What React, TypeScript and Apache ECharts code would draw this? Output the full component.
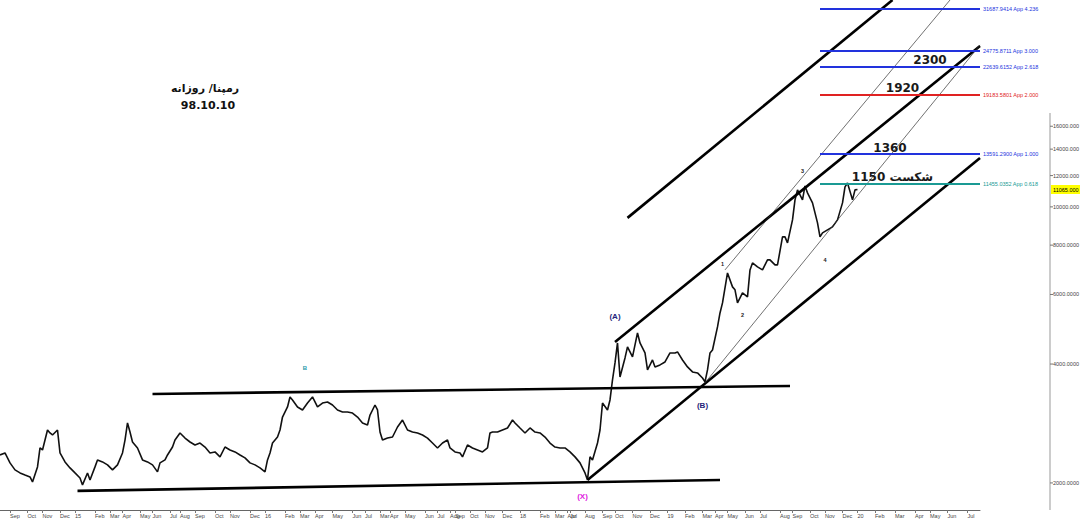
import React, { useEffect, useRef } from "react";
import * as echarts from "echarts";

// ---- x axis: slots (each slot ~ a few trading days), month starts ----
const SLOT_COUNT = 393;
const monthLabels = ["Sep","Oct","Nov","Dec","15","Feb","Mar","Apr","May","Jun","Jul","Aug","Sep","Oct","Nov","Dec","16","Feb","Mar","Apr","May","Jun","Jul","Mar","Apr","May","Jun","Jul","Aug","Sep","Oct","Nov","Dec","18","Feb","Mar","Apr","Jul","Aug","Sep","Oct","Nov","Dec","19","Feb","Mar","Apr","May","Jun","Jul","Aug","Sep","Oct","Nov","Dec","20","Feb","Mar","Apr","May","Jun","Jul"];
const monthStartSlot = [4,11,17,24,30,38,44,49,56,61,68,72,78,86,92,100,106,114,120,126,133,141,146,152,156,162,170,175,180,182,188,194,201,208,216,222,227,228,234,241,246,253,260,267,274,281,286,291,298,304,312,317,324,330,337,343,350,358,366,372,379,387];

// ---- price (slot, value) ----
const priceSlot = [0,2,4,6,8,10,12,13,15,16,17,19,20,21,23,24,26,28,30,32,33,35,36,38,39,41,43,45,47,49,50,51,52,53,55,57,59,61,63,64,66,67,69,70,72,74,76,78,80,82,84,86,88,90,92,94,96,98,100,102,104,106,107,108,109,111,112,113,115,116,117,119,121,123,125,127,129,131,133,135,137,139,141,143,145,147,148,150,151,152,153,155,157,159,161,163,165,167,169,171,173,175,177,179,180,182,184,185,187,189,191,193,195,196,197,199,201,203,205,206,208,210,212,214,216,218,220,222,224,226,228,230,232,234,235,236,237,239,240,241,243,244,245,246,247,248,250,251,253,255,256,258,259,261,262,264,266,268,270,271,273,275,277,279,281,282,283,284,285,287,288,289,291,293,294,295,297,299,300,301,303,305,307,308,310,311,313,314,315,317,318,319,321,322,323,325,327,328,329,331,333,335,337,338,339,341,342,343];
const priceValue = [2354,2382,2248,2158,2120,2095,2071,2012,2196,2452,2424,2723,2676,2645,2723,2382,2261,2183,2120,2059,1977,2120,2035,2196,2287,2261,2222,2158,2222,2382,2568,2837,2691,2539,2452,2287,2261,2222,2133,2248,2287,2354,2466,2568,2676,2598,2539,2495,2524,2466,2382,2396,2328,2466,2424,2396,2354,2314,2248,2222,2183,2133,2287,2382,2524,2614,2723,2937,3114,3301,3244,3114,3060,3187,3301,3114,3187,3206,3150,3060,3024,3024,3006,2937,2837,2804,2971,3150,3060,2691,2568,2598,2614,2771,2886,2723,2691,2676,2645,2598,2524,2452,2524,2568,2452,2396,2382,2328,2495,2452,2424,2396,2452,2676,2691,2691,2723,2755,2886,2837,2755,2676,2755,2691,2676,2614,2524,2466,2452,2452,2396,2328,2248,2120,2035,2328,2287,2524,2723,3187,3060,3244,3646,4026,4523,3710,4145,4419,4169,4795,4523,4267,3865,4096,3933,3979,4049,4267,4267,4292,4096,3933,3820,3798,3688,3604,3865,4267,4342,4966,5388,5713,6804,6272,6164,5713,6057,5917,6924,7213,7046,6924,7340,7340,7129,7129,8393,8393,8104,9269,10415,11040,10415,11300,10849,10234,9107,8393,8591,8743,8898,9269,10234,11234,11492,10415,11040,11065];
const lastPrice = 11065;

// ---- y axis tick values ----
const yTickValues = [2000,4000,6000,8000,10000,12000,14000,16000];
const yMin = 1708;
const yMax = 33400;

// ---- trend lines [slot1, price1, slot2, price2] ----
const heavyLines = [
  [61, 3360, 316, 3520],
  [31, 1909, 288, 2035],
  [235, 2035, 392, 13300],
  [246, 4550, 392, 25560],
  [251, 9378, 357, 33400],
];
const thinLines = [
  [290, 6924, 380, 33400],
  [282, 3584, 392, 25700],
];

// ---- Fibonacci projections ----
const fibValues = [31687.9414, 24775.8711, 22639.6152, 19183.5801, 13591.29, 11455.0352];
const fibRatios = ["4.236", "3.000", "2.618", "2.000", "1.000", "0.618"];
const fibColors = ["#2233dd", "#2233dd", "#2233dd", "#e02222", "#2233dd", "#1a9a94"];
const fibStartSlot = 328;
const fibEndSlot = 392;

// ---- target labels ----
const targetTexts = ["2300", "1920", "1360", "1150 شکست"];
const targetSlot = [372, 361, 356, 357];
const targetPrice = [23540, 20000, 14095, 11906];

// ---- wave labels ----
const waveTexts = ["(A)", "(B)", "(X)", "B", "1", "2", "3", "4"];
const waveSlot = [246, 281, 233, 122, 289, 297, 321, 330];
const wavePrice = [5264, 3132, 1843, 3910, 7170, 5326, 12330, 7338];
const waveColors = ["#23237a", "#23237a", "#e020e0", "#2a9aaa", "#222", "#222", "#222", "#222"];
const waveSizes = [8, 8, 8, 6, 5.5, 5.5, 5.5, 5.5];

const titleLines = ["رمپنا/ روزانه", "98.10.10"];

const fmtY = (v: number) => (v >= 10000 ? v.toFixed(3) : v.toFixed(4));

export default function App() {
  const ref = useRef<HTMLDivElement>(null);
  useEffect(() => {
    if (!ref.current) return;
    const chart = echarts.init(ref.current, null, { renderer: "svg" });
    const categories = Array.from({ length: SLOT_COUNT }, (_, i) => String(i));
    const labelMap: Record<number, string> = {};
    monthStartSlot.forEach((s, i) => (labelMap[s] = monthLabels[i]));
    const isMonth = (i: number) => labelMap[i] !== undefined;

    const priceData = priceSlot.map((s, i) => [s, priceValue[i]]);

    const lineItem = (l: number[], width: number, color: string) => [
      { coord: [l[0], l[1]], lineStyle: { width, color, type: "solid" }, label: { show: false } },
      { coord: [l[2], l[3]] },
    ];
    const markLines: any[] = [
      ...heavyLines.map((l) => lineItem(l, 2.6, "#000")),
      ...thinLines.map((l) => lineItem(l, 0.7, "#333")),
      ...fibValues.map((v, i) => [
        {
          coord: [fibStartSlot, v],
          lineStyle: { width: 2, color: fibColors[i], type: "solid" },
          label: {
            show: true,
            position: "end",
            distance: 3,
            formatter: `${v.toFixed(4)} App ${fibRatios[i]}`,
            color: fibColors[i],
            fontSize: 5.5,
            fontFamily: "Liberation Sans",
          },
        },
        { coord: [fibEndSlot, v] },
      ]),
    ];

    const markPoints: any[] = [
      ...targetTexts.map((t, i) => ({
        coord: [targetSlot[i], targetPrice[i]],
        symbol: "rect",
        symbolSize: 1,
        itemStyle: { color: "rgba(0,0,0,0)" },
        label: {
          show: true,
          position: "inside",
          formatter: t,
          fontSize: 12,
          fontWeight: "bold",
          color: "#1a1a1a",
          fontFamily: "DejaVu Sans",
        },
      })),
      ...waveTexts.map((t, i) => ({
        coord: [waveSlot[i], wavePrice[i]],
        symbol: "rect",
        symbolSize: 1,
        itemStyle: { color: "rgba(0,0,0,0)" },
        label: {
          show: true,
          position: "inside",
          formatter: t,
          fontSize: waveSizes[i],
          fontWeight: "bold",
          color: waveColors[i],
          fontFamily: "Liberation Sans",
        },
      })),
    ];

    chart.setOption({
      animation: false,
      backgroundColor: "#fff",
      grid: { left: 0, right: 100, top: 0, bottom: 12, containLabel: false },
      xAxis: {
        type: "category",
        data: categories,
        boundaryGap: false,
        axisLine: { show: true, lineStyle: { color: "#666", width: 1 } },
        axisTick: {
          show: true,
          interval: (i: number) => isMonth(i),
          length: 3,
          lineStyle: { color: "#777" },
        },
        axisLabel: {
          show: true,
          interval: (i: number) => isMonth(i),
          formatter: (_v: string, i: number) => labelMap[i] ?? "",
          fontSize: 5.5,
          color: "#444",
          align: "left",
          margin: 3,
          fontFamily: "Liberation Sans",
        },
        splitLine: { show: false },
      },
      yAxis: {
        type: "log",
        min: yMin,
        max: yMax,
        position: "right",
        axisLine: { show: false },
        axisTick: { show: false },
        axisLabel: { show: false },
        splitLine: { show: false },
      },
      series: [
        {
          type: "line",
          data: priceData,
          symbol: "none",
          lineStyle: { color: "#111", width: 1.6 },
          clip: false,
          markLine: { silent: true, symbol: ["none", "none"], data: markLines, animation: false },
          markPoint: { silent: true, data: markPoints, animation: false },
        },
      ],
    });

    const gx = 1050;
    const graphics: any[] = [
      { type: "line", shape: { x1: gx, y1: 113, x2: gx, y2: 510 }, style: { stroke: "#999", lineWidth: 1 } },
    ];
    yTickValues.forEach((v) => {
      const py = chart.convertToPixel({ yAxisIndex: 0 }, v) as number;
      graphics.push({ type: "line", shape: { x1: gx, y1: py, x2: gx + 3, y2: py }, style: { stroke: "#777", lineWidth: 1 } });
      graphics.push({
        type: "text",
        x: gx + 3,
        y: py,
        style: { text: fmtY(v), fontSize: 5.5, fill: "#444", verticalAlign: "middle", fontFamily: "Liberation Sans" },
      });
    });
    const ly = chart.convertToPixel({ yAxisIndex: 0 }, lastPrice) as number;
    graphics.push({ type: "rect", shape: { x: gx + 1, y: ly - 4.5, width: 29, height: 9 }, style: { fill: "#ffff00" } });
    graphics.push({
      type: "text",
      x: gx + 3,
      y: ly,
      style: { text: lastPrice.toFixed(3), fontSize: 5.5, fill: "#000", verticalAlign: "middle", fontFamily: "Liberation Sans" },
    });
    graphics.push({
      type: "text",
      x: 205,
      y: 88,
      style: { text: titleLines[0], fontSize: 11, fontWeight: "bold", fill: "#111", align: "center", verticalAlign: "middle", fontFamily: "DejaVu Sans" },
    });
    graphics.push({
      type: "text",
      x: 208,
      y: 105,
      style: { text: titleLines[1], fontSize: 11, fontWeight: "bold", fill: "#111", align: "center", verticalAlign: "middle", fontFamily: "DejaVu Sans" },
    });
    chart.setOption({ graphic: graphics });

    return () => chart.dispose();
  }, []);
  return (
    <div
      ref={ref}
      style={{ position: "fixed", left: 0, top: 0, width: 1080, height: 522, background: "#fff" }}
    />
  );
}
